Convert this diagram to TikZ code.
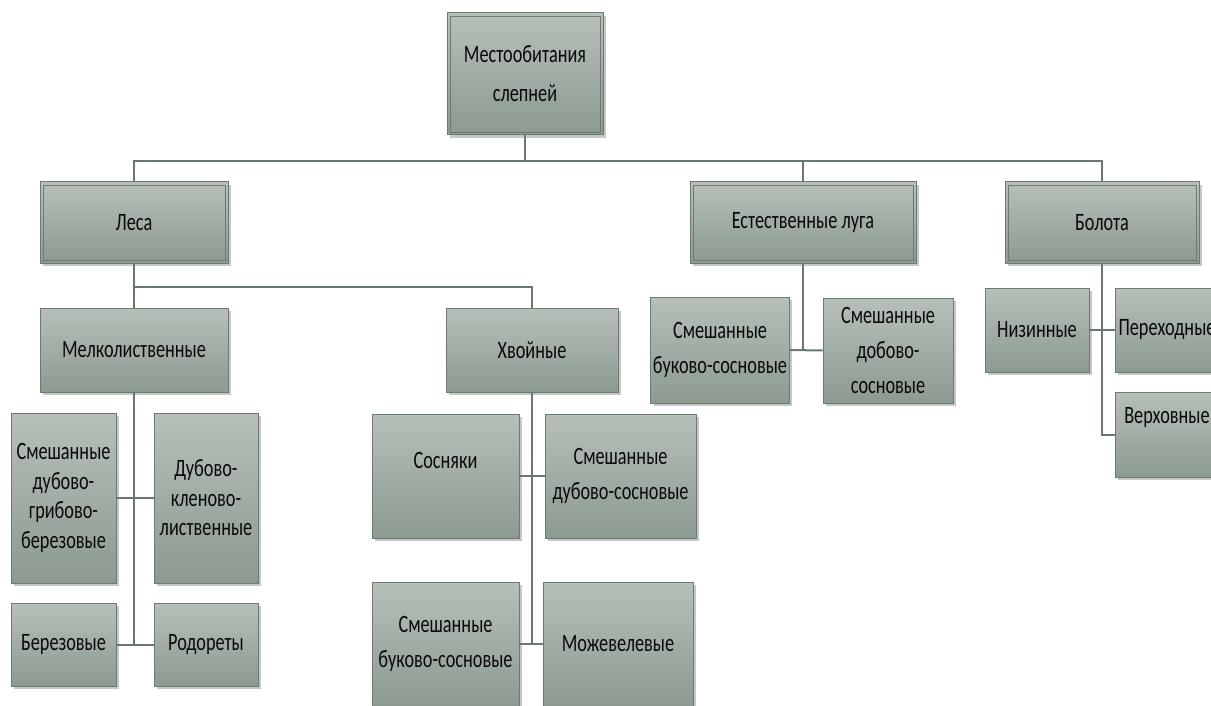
\documentclass[tikz,border=0pt]{standalone}
\usepackage{fontspec}
\setmainfont{Carlito}[FakeStretch=0.73]
\usetikzlibrary{shadows}
\definecolor{ftop}{RGB}{182,192,185}
\definecolor{fbot}{RGB}{140,154,144}
\definecolor{bcol}{RGB}{108,122,112}
\definecolor{lcol}{RGB}{105,120,110}
\definecolor{txt}{RGB}{10,10,10}
\tikzset{
  box/.style={draw=bcol, line width=1pt, top color=ftop, bottom color=fbot,
    drop shadow={shadow xshift=3pt, shadow yshift=-3pt, fill=black, opacity=0.22},
    inner sep=2pt, align=center, text=txt, font=\fontsize{25}{35}\selectfont},
  topbox/.style={box, path picture={\draw[bcol, line width=0.9pt]
    ([shift={(3pt,-3pt)}]path picture bounding box.north west) rectangle
    ([shift={(-3pt,3pt)}]path picture bounding box.south east);}},
  tight/.style={font=\fontsize{25}{29.5}\selectfont},
  roomy/.style={font=\fontsize{25}{39}\selectfont},
  conn/.style={draw=lcol, line width=2pt},
  sz/.style 2 args={minimum width=#1pt, minimum height=#2pt}
}
\begin{document}
\begin{tikzpicture}[x=1pt,y=-1pt]
\useasboundingbox (0,0) rectangle (1211,706);
% top level
\node[topbox, roomy, sz={156}{122}] (root) at (525,74) {Местообитания\\слепней};
\node[topbox, sz={188}{81}] (lesa) at (134,222.5) {Леса};
\node[topbox, sz={226}{81}] (luga) at (803,222.5) {Естественные луга};
\node[topbox, sz={194}{81}] (bol) at (1102,222.5) {Болота};
% second level
\node[box, sz={188}{84}] (melk) at (134,350) {Мелколиственные};
\node[box, sz={172}{84}] (hvoi) at (532,350) {Хвойные};
% leaves under Мелколиственные
\node[box, tight, sz={105}{170}] (a1) at (63.5,498) {Смешанные\\дубово-\\грибово-\\березовые};
\node[box, tight, sz={104}{170}] (a2) at (206,498) {Дубово-\\кленово-\\лиственные};
\node[box, sz={105}{83}] (a3) at (63.5,644.5) {Березовые};
\node[box, sz={104}{83}] (a4) at (206,644.5) {Родореты};
% leaves under Хвойные
\node[box, sz={147}{124}, text height=17pt, text depth=33pt] (b1) at (445.5,476) {Сосняки};
\node[box, sz={151}{124}] (b2) at (620.5,476) {Смешанные\\дубово-сосновые};
\node[box, sz={147}{124}] (b3) at (445.5,644) {Смешанные\\буково-сосновые};
\node[box, sz={150}{124}] (b4) at (618,644) {Можевелевые};
% leaves under Естественные луга
\node[box, sz={136}{106}] (c1) at (720,350) {Смешанные\\буково-сосновые};
\node[box, sz={130}{105}] (c2) at (888,350.5) {Смешанные\\добово-\\сосновые};
% leaves under Болота
\node[box, sz={104}{84}] (d1) at (1037,330) {Низинные};
\node[box, sz={104}{84}] (d2) at (1167,330) {Переходные};
\node[box, sz={104}{85}, text height=17pt, text depth=40pt] (d3) at (1167,434.5) {Верховные};
% connectors
\coordinate (bus) at (0,161);
\coordinate (bus2) at (0,287);
\draw[conn] (root.south) -- (root.south |- bus) -| (lesa.north);
\draw[conn] (root.south |- bus) -| (luga.north);
\draw[conn] (root.south |- bus) -| (bol.north);
\draw[conn] (lesa.south) -- (melk.north);
\draw[conn] (lesa.south |- bus2) -| (hvoi.north);
\draw[conn] (melk.south) -- (melk.south |- a3.east);
\draw[conn] (a1.east) -- (a2.west);
\draw[conn] (a3.east) -- (a4.west);
\draw[conn] (hvoi.south) -- (hvoi.south |- b3.east);
\draw[conn] (b1.east) -- (b2.west);
\draw[conn] (b3.east) -- (b4.west);
\draw[conn] (luga.south) -- (luga.south |- c1.east);
\draw[conn] (c1.east) -- (c2.west);
\draw[conn] (bol.south) -- (bol.south |- d3.west) -- (d3.west);
\draw[conn] (d1.east) -- (d2.west);
\end{tikzpicture}
\end{document}
